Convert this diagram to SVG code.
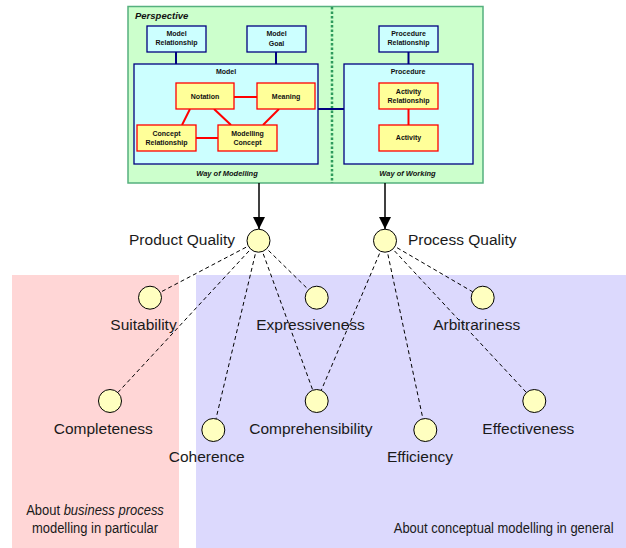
<svg xmlns="http://www.w3.org/2000/svg" width="626" height="548" viewBox="0 0 626 548">
<defs>
<marker id="arrow" markerUnits="userSpaceOnUse" viewBox="0 0 12 12" refX="12" refY="6" markerWidth="12" markerHeight="12" orient="auto">
<path d="M0,0 L12,6 L0,12 z" fill="#000"/>
</marker>
<style>
.small{font-family:"Liberation Sans",Arial,sans-serif;font-size:7px;font-weight:bold;fill:#111;text-anchor:middle}
.ital{font-family:"Liberation Sans",Arial,sans-serif;font-weight:bold;font-style:italic;fill:#111}
.cyan{fill:#ccffff;stroke:#000080;stroke-width:1.3}
.yel{fill:#ffff99;stroke:#ff0000;stroke-width:1.3}
.navy{stroke:#000080;stroke-width:2;fill:none}
.red{stroke:#ff0000;stroke-width:2;fill:none}
.dash{stroke:#000;stroke-width:1;stroke-dasharray:4,3;fill:none}
.q{fill:#ffffc0;stroke:#000;stroke-width:1}
.lbl{font-family:"Liberation Sans",Arial,sans-serif;font-size:15.5px;fill:#1a1a1a;text-anchor:middle}
.lbl-end{font-family:"Liberation Sans",Arial,sans-serif;font-size:15.5px;fill:#1a1a1a;text-anchor:end}
.lbl-start{font-family:"Liberation Sans",Arial,sans-serif;font-size:15.5px;fill:#1a1a1a;text-anchor:start}
.note{font-family:"Liberation Sans",Arial,sans-serif;font-size:14.5px;fill:#1a1a1a;text-anchor:middle}
</style>
</defs>

<!-- background regions -->
<rect id="region-business" x="12" y="275" width="167" height="273" fill="#ffd6d6"/>
<rect id="region-general" x="196" y="275" width="430" height="273" fill="#dcd9fd"/>

<!-- perspective frame -->
<g id="perspective">
<rect x="128" y="6.5" width="355" height="176.5" fill="#ccffcc" stroke="#55b07e" stroke-width="1.5"/>
<line x1="332" y1="7" x2="332" y2="183" stroke="#2e9a5c" stroke-width="2.5" stroke-dasharray="2.5,2"/>
<text class="ital" x="135" y="19" font-size="9.5">Perspective</text>
<text class="ital" x="227" y="175.5" font-size="7.5" text-anchor="middle">Way of Modelling</text>
<text class="ital" x="407.5" y="175.5" font-size="7.5" text-anchor="middle">Way of Working</text>
</g>

<g id="model">
<rect class="cyan" x="134" y="64" width="184" height="100"/>
<text class="small" x="226" y="74">Model</text>
</g>
<g id="procedure">
<rect class="cyan" x="344" y="64" width="129" height="100"/>
<text class="small" x="408" y="74">Procedure</text>
</g>

<g id="connectors">
<line class="navy" x1="176" y1="52" x2="176" y2="64"/>
<line class="navy" x1="276" y1="52" x2="276" y2="64"/>
<line class="navy" x1="408.5" y1="52" x2="408.5" y2="64"/>
<line class="navy" x1="318" y1="109" x2="344" y2="109"/>
<line class="red" x1="234" y1="97" x2="257" y2="97"/>
<line class="red" x1="190" y1="109" x2="182" y2="125"/>
<line class="red" x1="214" y1="109" x2="231" y2="125"/>
<line class="red" x1="279" y1="109" x2="263" y2="125"/>
<line class="red" x1="196" y1="138" x2="218" y2="138"/>
<line class="red" x1="408.5" y1="109" x2="408.5" y2="125"/>
<line x1="259" y1="183" x2="259" y2="229" stroke="#000" stroke-width="1.5" marker-end="url(#arrow)"/>
<line x1="385" y1="183" x2="385" y2="229" stroke="#000" stroke-width="1.5" marker-end="url(#arrow)"/>
<line class="dash" x1="258.5" y1="240.7" x2="150" y2="297.7"/>
<line class="dash" x1="258.5" y1="240.7" x2="110" y2="401"/>
<line class="dash" x1="258.5" y1="240.7" x2="316.7" y2="297.7"/>
<line class="dash" x1="258.5" y1="240.7" x2="316.7" y2="401"/>
<line class="dash" x1="258.5" y1="240.7" x2="213.3" y2="430"/>
<line class="dash" x1="385" y1="240.7" x2="316.7" y2="401"/>
<line class="dash" x1="385" y1="240.7" x2="425.3" y2="430"/>
<line class="dash" x1="385" y1="240.7" x2="482.7" y2="297.7"/>
<line class="dash" x1="385" y1="240.7" x2="534.3" y2="401"/>
</g>

<g id="model-relationship">
<rect class="cyan" x="147" y="26" width="59" height="26"/>
<text class="small" x="176.5" y="36">Model</text>
<text class="small" x="176.5" y="44.5">Relationship</text>
</g>
<g id="model-goal">
<rect class="cyan" x="247" y="26" width="59" height="26"/>
<text class="small" x="276.5" y="36">Model</text>
<text class="small" x="276.5" y="46">Goal</text>
</g>
<g id="procedure-relationship">
<rect class="cyan" x="379" y="26" width="59" height="26"/>
<text class="small" x="408.5" y="36">Procedure</text>
<text class="small" x="408.5" y="44.5">Relationship</text>
</g>
<g id="notation">
<rect class="yel" x="176" y="83" width="58" height="26"/>
<text class="small" x="205" y="99">Notation</text>
</g>
<g id="meaning">
<rect class="yel" x="257" y="83" width="58" height="26"/>
<text class="small" x="286" y="99">Meaning</text>
</g>
<g id="concept-relationship">
<rect class="yel" x="137" y="125" width="59" height="26"/>
<text class="small" x="166.5" y="136">Concept</text>
<text class="small" x="166.5" y="145">Relationship</text>
</g>
<g id="modelling-concept">
<rect class="yel" x="218" y="125" width="59" height="26"/>
<text class="small" x="247.5" y="136">Modelling</text>
<text class="small" x="247.5" y="145">Concept</text>
</g>
<g id="activity-relationship">
<rect class="yel" x="379" y="83" width="59" height="26"/>
<text class="small" x="408.5" y="94">Activity</text>
<text class="small" x="408.5" y="102.5">Relationship</text>
</g>
<g id="activity">
<rect class="yel" x="379" y="125" width="59" height="26"/>
<text class="small" x="408.5" y="140">Activity</text>
</g>

<g id="product-quality">
<circle class="q" cx="258.5" cy="240.7" r="11.5"/>
<text class="lbl-end" x="235" y="244.5">Product Quality</text>
</g>
<g id="process-quality">
<circle class="q" cx="385" cy="240.7" r="11.5"/>
<text class="lbl-start" x="408" y="244.5">Process Quality</text>
</g>
<g id="suitability">
<circle class="q" cx="150" cy="297.7" r="11.5"/>
<text class="lbl" x="143.5" y="330">Suitability</text>
</g>
<g id="expressiveness">
<circle class="q" cx="316.7" cy="297.7" r="11.5"/>
<text class="lbl" x="310.5" y="330">Expressiveness</text>
</g>
<g id="arbitrariness">
<circle class="q" cx="482.7" cy="297.7" r="11.5"/>
<text class="lbl" x="476.7" y="330">Arbitrariness</text>
</g>
<g id="completeness">
<circle class="q" cx="110" cy="401" r="11.5"/>
<text class="lbl" x="103.3" y="433.5">Completeness</text>
</g>
<g id="comprehensibility">
<circle class="q" cx="316.7" cy="401" r="11.5"/>
<text class="lbl" x="310.8" y="433.5">Comprehensibility</text>
</g>
<g id="effectiveness">
<circle class="q" cx="534.3" cy="401" r="11.5"/>
<text class="lbl" x="528.3" y="433.5">Effectiveness</text>
</g>
<g id="coherence">
<circle class="q" cx="213.3" cy="430" r="11.5"/>
<text class="lbl" x="206.7" y="462">Coherence</text>
</g>
<g id="efficiency">
<circle class="q" cx="425.3" cy="430" r="11.5"/>
<text class="lbl" x="420" y="462">Efficiency</text>
</g>

<g id="notes">
<g transform="translate(95,0) scale(0.895,1)">
<text class="note" x="0" y="515">About <tspan font-style="italic">business process</tspan></text>
<text class="note" x="0" y="533.3">modelling in particular</text>
</g>
<g transform="translate(503.7,0) scale(0.895,1)">
<text class="note" x="0" y="533.3">About conceptual modelling in general</text>
</g>
</g>
</svg>
